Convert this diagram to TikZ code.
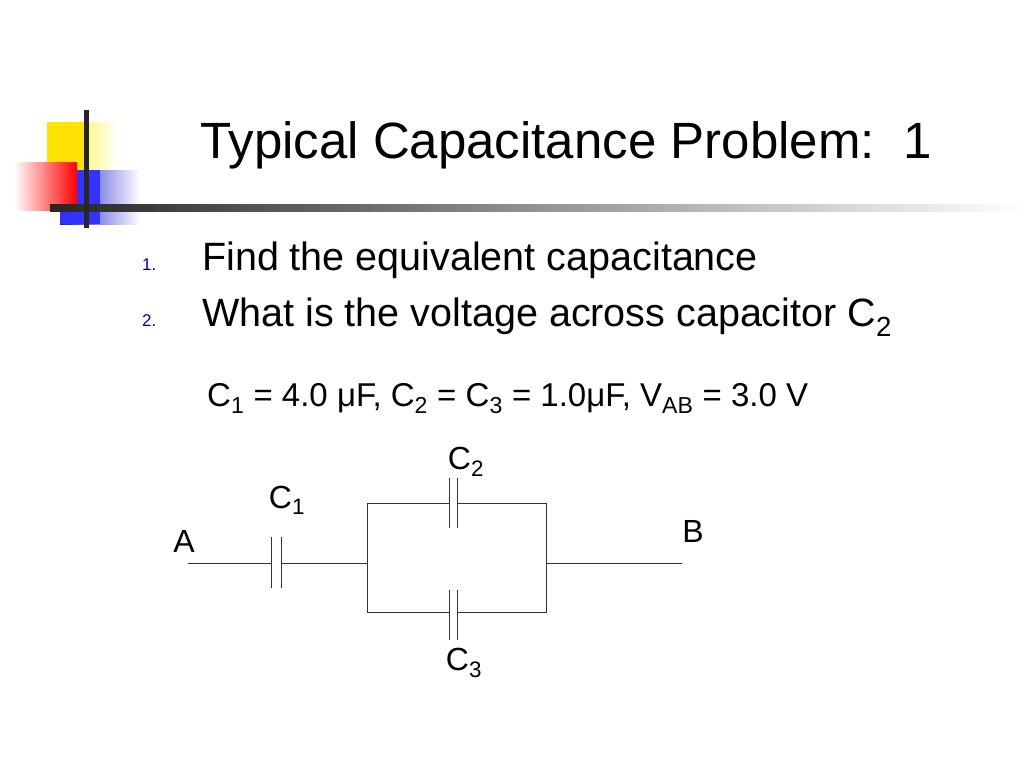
\documentclass[tikz,border=0pt]{standalone}
\usepackage{fontspec}
\setmainfont{Liberation Sans}
\begin{document}
\begin{tikzpicture}[x=1pt,y=-1pt,
  wire/.style={draw=black!80,line width=0.8pt},
  plate/.style={draw=black!80,line width=0.8pt},
  lbl/.style={font=\fontsize{32}{36}\selectfont,inner sep=0pt}]
\useasboundingbox (0,0) rectangle (1024,768);
\fill[white] (0,0) rectangle (1024,768);
% logo
\shade[left color=yellow!85!orange, right color=white] (47,122) rectangle (118,172);
\fill[yellow!85!orange] (47,122) rectangle (88,172);
\shade[left color=blue!80!black!90, right color=white] (60,170) rectangle (140,224);
\fill[blue!80] (60,170) rectangle (100,224);
\shade[top color=red!90, bottom color=white, left color=white, right color=red] (14,162) rectangle (77,210);
\shade[left color=black!85, right color=white] (50,204) rectangle (1024,211);
\fill[black!85] (84,110) rectangle (89,228);
% title
\node[anchor=base west,inner sep=0pt,font=\fontsize{51}{56}\selectfont] (title) at (200,158) {Typical Capacitance Problem:\ \ 1};
\node[anchor=base west,inner sep=0pt,font=\fontsize{17}{20}\selectfont,text=blue!60!black] (n1) at (142,270) {1.};
\node[anchor=base west,inner sep=0pt,font=\fontsize{17}{20}\selectfont,text=blue!60!black] (n2) at (142,326) {2.};
\node[anchor=base west,inner sep=0pt,font=\fontsize{39.5}{44}\selectfont] (i1) at (202,270) {Find the equivalent capacitance};
\node[anchor=base west,inner sep=0pt,font=\fontsize{39.5}{44}\selectfont] (i2) at (202,326) {What is the voltage across capacitor C\textsubscript{2}};
\node[anchor=base west,inner sep=0pt,font=\fontsize{33}{36}\selectfont] (eq) at (207,406) {C\textsubscript{1} = 4.0 μF, C\textsubscript{2} = C\textsubscript{3} = 1.0μF, V\textsubscript{AB} = 3.0 V};
% circuit coordinates
\coordinate (a) at (188,563);
\coordinate (c1l) at (271,563);
\coordinate (c1r) at (281,563);
\coordinate (jl) at (367,563);
\coordinate (jr) at (546,563);
\coordinate (b) at (682,563);
\coordinate (tl) at (367,503);
\coordinate (tr) at (546,503);
\coordinate (bl) at (367,612);
\coordinate (br) at (546,612);
\coordinate (c2l) at (449,503);
\coordinate (c2r) at (457,503);
\coordinate (c3l) at (449,612);
\coordinate (c3r) at (457,612);
\draw[wire] (a) -- (c1l);
\draw[wire] (c1r) -- (jl);
\draw[wire] (jl) -- (tl) -- (c2l);
\draw[wire] (c2r) -- (tr) -- (jr);
\draw[wire] (jl) -- (bl) -- (c3l);
\draw[wire] (c3r) -- (br) -- (jr);
\draw[wire] (jr) -- (b);
\draw[plate] (271,537) -- (271,588) (281,537) -- (281,588);
\draw[plate] (449,478) -- (449,528) (457,478) -- (457,528);
\draw[plate] (449,590) -- (449,640) (457,590) -- (457,640);
\node[lbl,anchor=base] (la) at (184,552) {A};
\node[lbl,anchor=base] (lb) at (693,542) {B};
\node[lbl,anchor=base] (l1) at (287,508) {C\textsubscript{1}};
\node[lbl,anchor=base] (l2) at (466,469) {C\textsubscript{2}};
\node[lbl,anchor=base] (l3) at (464,670) {C\textsubscript{3}};
\end{tikzpicture}
\end{document}
